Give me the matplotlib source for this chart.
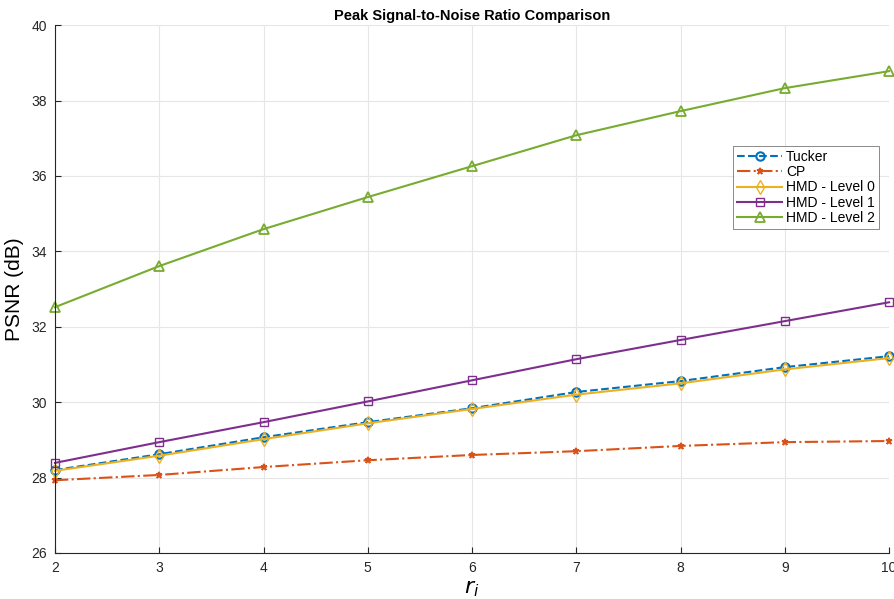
import matplotlib.pyplot as plt
import numpy as np

plt.rcParams['font.family'] = ['Liberation Sans', 'DejaVu Sans']

r = [2, 3, 4, 5, 6, 7, 8, 9, 10]
tucker = [28.20, 28.62, 29.07, 29.47, 29.84, 30.27, 30.56, 30.93, 31.22]
cp = [27.93, 28.07, 28.28, 28.46, 28.60, 28.70, 28.84, 28.94, 28.97]
hmd0 = [28.18, 28.58, 29.02, 29.44, 29.82, 30.20, 30.50, 30.87, 31.17]
hmd1 = [28.39, 28.94, 29.47, 30.02, 30.58, 31.14, 31.65, 32.15, 32.65]
hmd2 = [32.52, 33.61, 34.59, 35.44, 36.26, 37.08, 37.72, 38.33, 38.78]

fig = plt.figure(figsize=(8.94, 5.99), dpi=100)
ax = fig.add_axes([0.0615, 0.0768, 0.933, 0.8812])

kw = dict(lw=1.5, clip_on=False)
ax.plot(r, tucker, '--o', color='#0072BD', ms=6, mfc='none', mew=1.5, label='Tucker', **kw)
ax.plot(r, cp, '-.*', color='#D95319', ms=5, mew=1.2, label='CP', **kw)
ax.plot(r, hmd0, '-d', color='#EDB120', ms=7, mfc='none', mew=1.0, label='HMD - Level 0', **kw)
ax.plot(r, hmd1, '-s', color='#7E2F8E', ms=6, mfc='none', mew=1.0, label='HMD - Level 1', **kw)
ax.plot(r, hmd2, '-^', color='#77AC30', ms=7, mfc='none', mew=1.3, label='HMD - Level 2', **kw)

ax.set_xlim(2, 10)
ax.set_ylim(26, 40)
ax.set_xticks(r)
ax.set_yticks(np.arange(26, 41, 2))
ax.grid(True, color='#e6e6e6', lw=0.8)
ax.set_axisbelow(True)
for s in ['top', 'right']:
    ax.spines[s].set_visible(False)
for s in ['left', 'bottom']:
    ax.spines[s].set_color('#262626')
    ax.spines[s].set_linewidth(0.8)
ax.tick_params(direction='in', length=4, labelsize=10, colors='#262626', pad=6)

ax.set_title('Peak Signal-to-Noise Ratio Comparison', fontsize=10.5, fontweight='bold', pad=4)
ax.set_ylabel('PSNR (dB)', fontsize=15, labelpad=5)
ax.set_xlabel(r'$r_i$', fontsize=16, labelpad=2)

leg = ax.legend(loc='upper right', bbox_to_anchor=(0.988, 0.772), fontsize=10,
                frameon=True, fancybox=False, borderpad=0.3, labelspacing=0.1,
                handlelength=3.2, handletextpad=0.3, borderaxespad=0)
leg.get_frame().set_edgecolor('#555555')
leg.get_frame().set_linewidth(0.6)

fig.savefig('out.png', dpi=100)
